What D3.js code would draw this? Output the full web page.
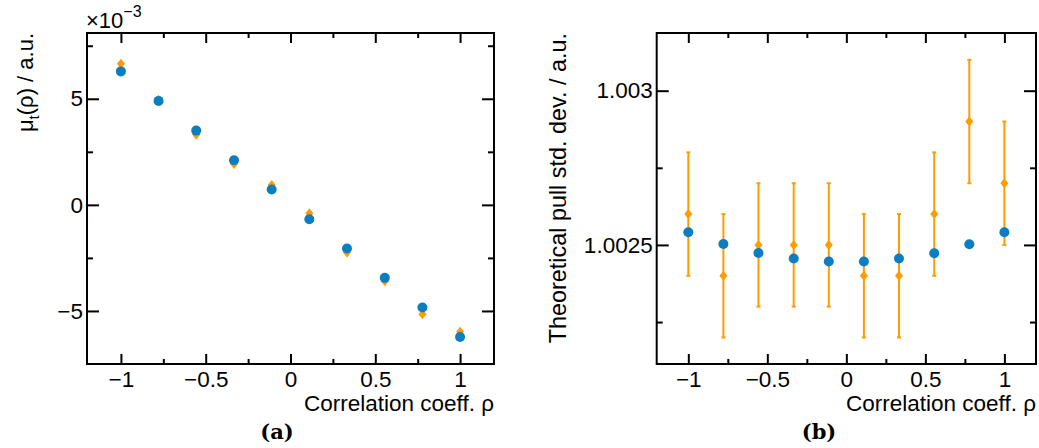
<!DOCTYPE html>
<html>
<head>
<meta charset="utf-8">
<script src="https://cdn.jsdelivr.net/npm/d3@7"></script>
<style>
  body { margin: 0; background: #fff; }
  svg text { font-family: "Liberation Sans", Arial, sans-serif; fill: #000; }
</style>
</head>
<body>
<svg id="chart" width="1039" height="448"></svg>
<script>
// correlation coefficients (x positions for both panels)
const rho = [-1, -0.778, -0.556, -0.333, -0.111, 0.111, 0.333, 0.556, 0.778, 1];

// panel (a): mu_t(rho), in units of 1e-3
const muBlue = [6.29, 4.90, 3.50, 2.10, 0.72, -0.68, -2.06, -3.44, -4.84, -6.23];
const muOrange = [6.65, 4.95, 3.30, 1.93, 0.94, -0.40, -2.25, -3.60, -5.15, -5.98];

// panel (b): theoretical pull std. dev.
const pullBlue = [1.002541, 1.002503, 1.002474, 1.002456, 1.002446, 1.002446, 1.002456, 1.002473, 1.002502, 1.002541];
const pullOrange = [1.0026, 1.0024, 1.0025, 1.0025, 1.0025, 1.0024, 1.0024, 1.0026, 1.0029, 1.0027];
const pullErr = [0.0002, 0.0002, 0.0002, 0.0002, 0.0002, 0.0002, 0.0002, 0.0002, 0.0002, 0.0002];

const xMajor = [-1, -0.5, 0, 0.5, 1];
const xMinor = [-0.75, -0.25, 0.25, 0.75];
const muMajor = [-5, 0, 5];
const muMinor = [-2.5, 2.5, 7.5];
const pullMajor = [1.0025, 1.003];
const pullMinor = [1.00225, 1.00275];

const blue = "#0b7dc1";
const orange = "#ff9c00";

const svg = d3.select("#chart");

// diamond marker, a bit wider than d3's symbolDiamond
const diamond = (hw, hh) => {
    const p = d3.path();
    p.moveTo(0, -hh); p.lineTo(hw, 0); p.lineTo(0, hh); p.lineTo(-hw, 0); p.closePath();
    return p.toString();
};

function drawPanel(o) {
    const x = d3.scaleLinear().domain([-1.2, 1.2]).range(o.xr);
    const y = d3.scaleLinear().domain(o.yd).range([364, 33]);
    const g = svg.append("g");
    const [x0, x1] = x.range();
    const [yb, yt] = y.range();

    // ticks point inward on all four sides, labels only on bottom and left
    const axes = [
        { make: d3.axisBottom, s: x, tr: `translate(0,${yb})`, maj: xMajor, min: xMinor, big: 10, small: 5, fmt: d3.format("~g") },
        { make: d3.axisTop, s: x, tr: `translate(0,${yt})`, maj: xMajor, min: xMinor, big: 10, small: 5, fmt: null },
        { make: d3.axisLeft, s: y, tr: `translate(${x0},0)`, maj: o.major, min: o.minor, big: 12, small: 6, fmt: o.fmt },
        { make: d3.axisRight, s: y, tr: `translate(${x1},0)`, maj: o.major, min: o.minor, big: 12, small: 6, fmt: null }
    ];
    axes.forEach(a => {
        const maj = g.append("g").attr("transform", a.tr)
            .call(a.make(a.s).tickValues(a.maj).tickSize(-a.big)
                .tickPadding(a.make === d3.axisBottom ? 7 : 4)
                .tickFormat(a.fmt || ""));
        maj.selectAll("text").style("font-size", "22.5px");
        maj.select(".domain").remove();
        const min = g.append("g").attr("transform", a.tr)
            .call(a.make(a.s).tickValues(a.min).tickSize(-a.small).tickFormat(""));
        min.select(".domain").remove();
    });
    g.selectAll("line").attr("stroke-width", 2);

    // frame
    g.append("rect")
        .attr("x", x0).attr("y", yt)
        .attr("width", x1 - x0).attr("height", yb - yt)
        .attr("fill", "none").attr("stroke", "#000").attr("stroke-width", 2);

    // error bars (orange)
    if (o.err) {
        const eb = g.append("g").attr("stroke", orange).attr("stroke-width", 2);
        rho.forEach((r, i) => {
            const lo = o.orange[i] - o.err[i], hi = o.orange[i] + o.err[i];
            eb.append("line").attr("x1", x(r)).attr("x2", x(r)).attr("y1", y(lo)).attr("y2", y(hi));
            [lo, hi].forEach(v => {
                eb.append("line").attr("x1", x(r) - 2).attr("x2", x(r) + 2).attr("y1", y(v)).attr("y2", y(v));
            });
        });
    }
    g.append("g").selectAll("path").data(rho).join("path")
        .attr("d", diamond(4, 5))
        .attr("transform", (d, i) => `translate(${x(d)},${y(o.orange[i])})`)
        .attr("fill", orange);
    g.append("g").selectAll("circle").data(rho).join("circle")
        .attr("cx", d => x(d)).attr("cy", (d, i) => y(o.blue[i]))
        .attr("r", 5).attr("fill", blue);

    // x title
    g.append("text").attr("x", x1).attr("y", 411)
        .attr("text-anchor", "end").style("font-size", "22.5px")
        .text("Correlation coeff. ρ");
    // y title
    const ytl = g.append("text")
        .attr("transform", `translate(${o.ytx},33) rotate(-90)`)
        .attr("text-anchor", "end").style("font-size", o.ytsize);
    o.ytitle(ytl);
    // caption
    svg.append("text").attr("x", o.capx).attr("y", 439).attr("text-anchor", "middle")
        .style("font-family", "'DejaVu Serif', serif").style("font-weight", "bold")
        .style("font-size", "21px").text(o.cap);
}

drawPanel({
    xr: [87, 494], yd: [-7.5, 8.1], major: muMajor, minor: muMinor,
    fmt: d3.format("~g"), blue: muBlue, orange: muOrange, err: null,
    ytx: 33, ytsize: "22px", capx: 277, cap: "(a)",
    ytitle: t => {
        t.append("tspan").text("μ");
        t.append("tspan").attr("dy", 6).style("font-size", "15px").text("t");
        t.append("tspan").attr("dy", -6).text("(ρ) / a.u.");
    }
});

drawPanel({
    xr: [656.7, 1036], yd: [1.002114, 1.003187], major: pullMajor, minor: pullMinor,
    fmt: d3.format(".4~f"), blue: pullBlue, orange: pullOrange, err: pullErr,
    ytx: 566, ytsize: "23.4px", capx: 819, cap: "(b)",
    ytitle: t => t.text("Theoretical pull std. dev. / a.u.")
});

// exponent label for panel (a)
const ex = svg.append("text").attr("x", 86).attr("y", 28).style("font-size", "22px");
ex.append("tspan").text("×10");
ex.append("tspan").attr("dy", -11).style("font-size", "16px").text("−3");
</script>
</body>
</html>
